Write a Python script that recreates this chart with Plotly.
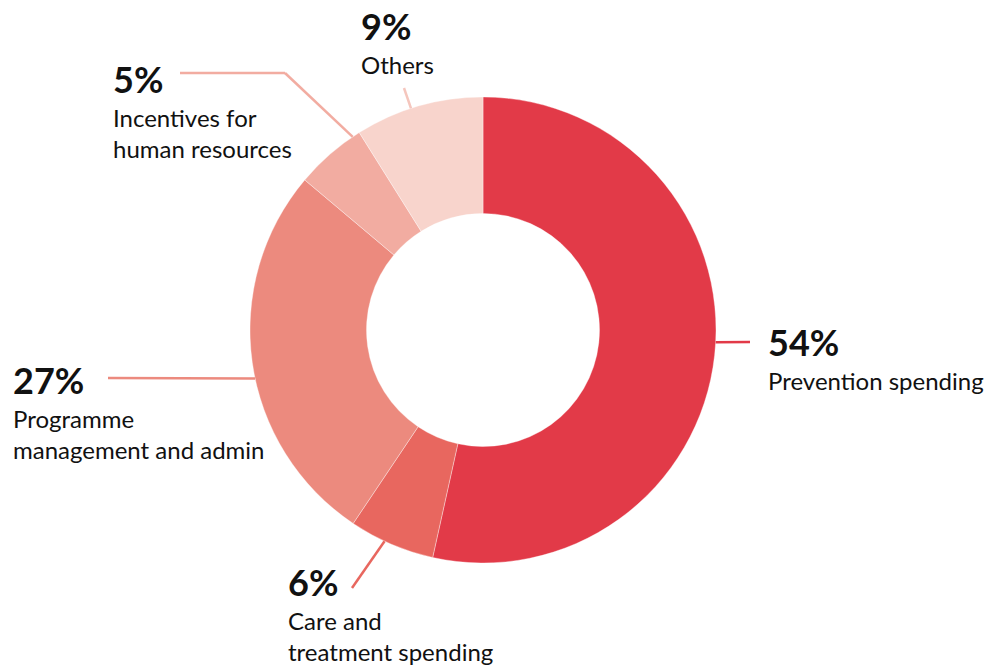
import math
import plotly.graph_objects as go

# Spending breakdown (percent shares)
categories = [
    "Prevention spending",
    "Care and treatment spending",
    "Programme management and admin",
    "Incentives for human resources",
    "Others",
]
label_lines = [
    ["Prevention spending"],
    ["Care and", "treatment spending"],
    ["Programme", "management and admin"],
    ["Incentives for", "human resources"],
    ["Others"],
]
shares = [54, 6, 27, 5, 9]
colors = ["#E23A48", "#E8675F", "#EC8A7E", "#F2ACA1", "#F8D4CC"]
line_colors = ["#E23A48", "#E8675F", "#EC8A7E", "#F2ACA1", "#F5C6BD"]

W, H = 996, 667
CX, CY, R = 483, 330, 233

# Label placement: leader attach angle (deg, clockwise from 12 o'clock),
# leader waypoints and text block origin, all in pixels.
placement = [
    dict(angle=93, path=[(750, 342)], text=(767, 330)),
    dict(angle=205, path=[(352, 588)], text=(287, 570)),
    dict(angle=258, path=[(108, 378)], text=(12, 368)),
    dict(angle=326, path=[(285, 73), (180, 73)], text=(112, 67)),
    dict(angle=342, path=[(404, 88)], text=(360, 14)),
]

PCT_SIZE = 36
LBL_SIZE = 24
FONT = "Lato"


def px(x):
    return x / W


def py(y):
    return 1 - y / H


fig = go.Figure(
    go.Pie(
        labels=categories,
        values=shares,
        hole=0.5,
        sort=False,
        direction="clockwise",
        rotation=0,
        textinfo="none",
        hoverinfo="label+percent",
        marker=dict(colors=colors, line=dict(color="rgba(255,255,255,0.6)", width=0.6)),
        domain=dict(x=[px(CX - R), px(CX + R)], y=[py(CY + R), py(CY - R)]),
        showlegend=False,
    )
)

shapes = []
annotations = []
for share, lines, place, lc in zip(shares, label_lines, placement, line_colors):
    a = math.radians(place["angle"])
    pts = [(CX + R * math.sin(a), CY - R * math.cos(a))] + place["path"]
    for (x0, y0), (x1, y1) in zip(pts[:-1], pts[1:]):
        shapes.append(
            dict(
                type="line", xref="paper", yref="paper",
                x0=px(x0), y0=py(y0), x1=px(x1), y1=py(y1),
                line=dict(color=lc, width=2.5),
            )
        )
    tx, ty = place["text"]
    annotations.append(
        dict(
            x=px(tx - 1), y=py(ty - 12), xref="paper", yref="paper",
            xanchor="left", yanchor="top", showarrow=False, align="left",
            text=f"<b>{share}%</b>",
            font=dict(family=FONT, size=PCT_SIZE, color="#111111"),
        )
    )
    annotations.append(
        dict(
            x=px(tx - 1), y=py(ty + 34), xref="paper", yref="paper",
            xanchor="left", yanchor="top", showarrow=False, align="left",
            text="<br>".join(lines),
            font=dict(family=FONT, size=LBL_SIZE, color="#111111"),
        )
    )

fig.update_layout(
    width=W,
    height=H,
    margin=dict(l=0, r=0, t=0, b=0),
    paper_bgcolor="white",
    plot_bgcolor="white",
    shapes=shapes,
    annotations=annotations,
)

fig.write_html("out.html")
